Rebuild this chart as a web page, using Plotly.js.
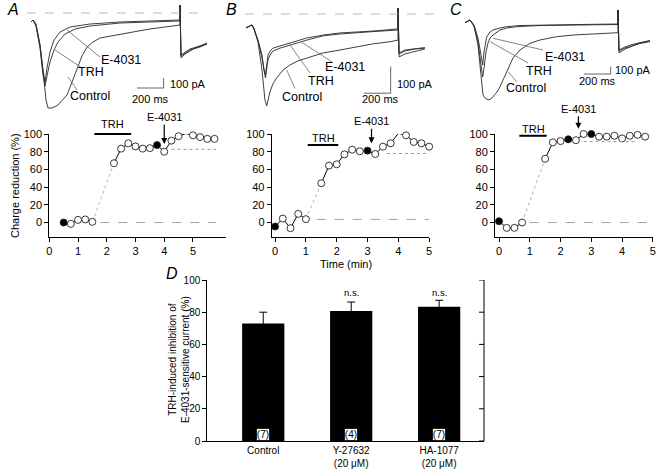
<!DOCTYPE html>
<html><head><meta charset="utf-8">
<script src="https://cdn.plot.ly/plotly-3.0.1.min.js"></script>
<style>html,body{margin:0;padding:0;background:#fff}#chart{width:663px;height:471px}</style>
</head><body><div id="chart"></div>
<script>
// ================= DATA =================
// Current traces (time in ms, current in pA)
const aCtrlT = [7.5,22.5,45,75,105,120,135,165,210,247.5,277.5,315,352.5,390,427.5,472.5,525,637.5,772.5,900,1012.5,1125,1125,1132.5,1162.5,1200,1237.5,1275,1327.5];
const aCtrlI = [-90,-70,-110,-320,-670,-870,-950,-950,-920,-870,-820,-690,-550,-430,-340,-290,-250,-220,-190,-160,-140,-120,80,-450,-410,-380,-350,-330,-310];
const aTrhT  = [7.5,22.5,45,75,97.5,112.5,127.5,150,180,210,262.5,337.5,450,675,900,1125,1125,1132.5,1200,1275,1327.5];
const aTrhI  = [-90,-70,-130,-350,-620,-730,-630,-490,-370,-290,-210,-160,-130,-100,-90,-80,80,-430,-370,-340,-310];
const aE4031T = [7.5,22.5,45,75,97.5,112.5,127.5,150,180,225,300,450,675,900,1125,1125,1132.5,1200,1275,1327.5];
const aE4031I = [-90,-70,-120,-320,-570,-690,-550,-390,-270,-190,-140,-110,-90,-80,-70,80,-420,-360,-330,-300];

const bCtrlT = [0,30,45,60,90,120,142,155,165,180,202,230,278,330,390,455,578,705,830,952,1080,1140,1140,1148,1192,1268,1342];
const bCtrlI = [-52,-45,-41,-56,-105,-210,-322,-345,-322,-292,-262,-240,-210,-191,-176,-165,-146,-135,-123,-112,-104,-98,22,-161,-150,-139,-131];
const bTrhT  = [0,30,45,60,90,120,135,146,158,165,180,202,255,330,455,578,705,952,1140,1140,1148,1192,1268,1342];
const bTrhI  = [-52,-45,-41,-56,-101,-165,-218,-240,-195,-172,-154,-139,-128,-116,-98,-82,-75,-66,-60,22,-150,-139,-131,-128];
const bE4031T = [0,30,45,60,90,120,135,146,158,165,180,202,255,330,455,578,705,952,1140,1140,1148,1192,1268,1342];
const bE4031I = [-52,-45,-41,-56,-98,-154,-210,-229,-180,-154,-139,-128,-120,-109,-90,-79,-71,-64,-56,22,-146,-135,-129,-126];

const cCtrlT = [0,37.5,67.5,97.5,120,135,150,172.5,195,210,240,262.5,285,312.5,337.5,360,412.5,487.5,562.5,687.5,810,937.5,1147.5,1147.5,1155,1200,1252.5,1312.5,1387.5];
const cCtrlI = [-119,-82,-164,-425,-836,-1110,-1151,-1178,-1164,-1133,-1069,-996,-904,-790,-685,-603,-493,-401,-356,-311,-288,-274,-256,55,-534,-480,-438,-397,-370];
const cTrhT  = [0,37.5,67.5,97.5,120,132.5,142.5,157.5,172.5,187.5,210,240,262.5,312.5,387.5,562.5,862.5,1147.5,1147.5,1155,1200,1252.5,1312.5,1387.5];
const cTrhI  = [-119,-82,-164,-384,-699,-863,-740,-521,-397,-329,-288,-247,-219,-192,-174,-158,-151,-144,55,-507,-466,-432,-404,-377];
const cE4031T = [0,37.5,67.5,97.5,120,132.5,142.5,162.5,187.5,210,262.5,312.5,412.5,562.5,862.5,1147.5,1147.5,1155,1200,1252.5,1312.5,1387.5];
const cE4031I = [-119,-82,-151,-329,-562,-699,-521,-315,-247,-219,-192,-174,-158,-151,-144,-137,55,-493,-452,-418,-390,-363];

// Charge reduction time courses (time in min, %)
const aTime   = [0.5,0.75,1.0,1.25,1.5,2.25,2.5,2.75,3.0,3.25,3.5,3.75,4.0,4.25,4.5,4.75,5.0,5.25,5.5,5.75];
const aCharge = [0,-1.5,3,3.5,0.8,67,83.5,89.5,86,83.5,84,87.5,80,92.5,97.5,100.5,98.5,96.5,94.5,94.5];
const aSampled = [1,0,0,0,0,0,0,0,0,0,0,1,0,0,0,1,0,0,0,0];
const aPreCount = 5;

const bTime   = [0,0.25,0.5,0.75,1.0,1.5,1.75,2.0,2.25,2.5,2.75,3.0,3.25,3.5,3.75,4.0,4.25,4.5,4.75,5.0];
const bCharge = [-4.5,4.5,-6.4,9.8,3.8,44.4,64.3,65.8,77,82.3,80.5,81.2,77.4,85.7,89.5,100.8,98.5,91,89.5,85.7];
const bSampled = [1,0,0,0,0,0,0,0,0,0,0,1,0,0,0,1,0,0,0,0];
const bPreCount = 5;

const cTime   = [0,0.25,0.5,0.75,1.5,1.75,2.0,2.25,2.5,2.75,3.0,3.25,3.5,3.75,4.0,4.25,4.5,4.75];
const cCharge = [1.5,-6,-6,0,72,90.6,92,94,93,100,100,97,97,98,95,98,99,97];
const cSampled = [1,0,0,0,0,0,0,1,0,0,1,0,0,0,0,0,0,0];
const cPreCount = 4;

// Application periods / reference levels (min, %)
const trhPeriod = {A:[1.57,2.85], B:[1.06,2.05], C:[0.66,1.55]};
const trhLevel  = {A:100, B:87.6, C:98};
const e4031Time = {A:4.0, B:3.13, C:2.58};
const e4031Head = {A:88.7, B:89.5, C:106};
const baseLevel = {A:0, B:3.5, C:0};
const baseSpan  = {A:[1.77,5.8], B:[1.35,5.0], C:[1.0,5.0]};
const postLevel = {A:82.7, B:78, C:91.4};
const postSpan  = {A:[4.25,5.8], B:[3.63,4.97], C:[2.75,4.5]};

// Panel D
const dCategories = ['Control','Y-27632<br>(20 \u03bcM)','HA-1077<br>(20 \u03bcM)'];
const dMean = [73, 80.7, 83.4];
const dSem  = [7, 5.6, 4];
const dN    = [7, 4, 7];
const dSig  = ['', 'n.s.', 'n.s.'];

const yTicks = [0,20,40,60,80,100];
const xTicks = [0,1,2,3,4,5];

// ================= LAYOUT HELPERS =================
const W = 663, H = 471;
const px = v => v / W;
const py = v => 1 - v / H;
const FONT = 'Liberation Sans, Arial, Helvetica, sans-serif';
const traceColor = '#2a2a2a';

const data = [];
const shapes = [];
const annotations = [];

function addCurrentPanel(sets, xa, ya) {
  sets.forEach(s => data.push({type:'scatter', mode:'lines', x:s[0], y:s[1], xaxis:xa, yaxis:ya,
    line:{color:traceColor, width:0.9}, hoverinfo:'skip'}));
}
addCurrentPanel([[aCtrlT,aCtrlI],[aTrhT,aTrhI],[aE4031T,aE4031I]], 'x', 'y');
addCurrentPanel([[bCtrlT,bCtrlI],[bTrhT,bTrhI],[bE4031T,bE4031I]], 'x2', 'y2');
addCurrentPanel([[cCtrlT,cCtrlI],[cTrhT,cTrhI],[cE4031T,cE4031I]], 'x3', 'y3');

function addChargePanel(t, v, sampled, nPre, xa, ya) {
  data.push({type:'scatter', mode:'lines', x:[t[nPre-1], t[nPre]], y:[v[nPre-1], v[nPre]], xaxis:xa, yaxis:ya,
    line:{color:'#b5b5b5', width:1, dash:'dot'}, hoverinfo:'skip'});
  data.push({type:'scatter', mode:'lines', x:t.slice(0,nPre), y:v.slice(0,nPre), xaxis:xa, yaxis:ya,
    line:{color:'#000', width:1}, hoverinfo:'skip'});
  data.push({type:'scatter', mode:'lines', x:t.slice(nPre), y:v.slice(nPre), xaxis:xa, yaxis:ya,
    line:{color:'#000', width:1}, hoverinfo:'skip'});
  data.push({type:'scatter', mode:'markers', x:t, y:v, xaxis:xa, yaxis:ya, cliponaxis:false,
    marker:{size:7, color:sampled.map(f => f ? '#000' : '#fff'), line:{color:'#222', width:0.9}}, hoverinfo:'skip'});
}
addChargePanel(aTime, aCharge, aSampled, aPreCount, 'x4', 'y4');
addChargePanel(bTime, bCharge, bSampled, bPreCount, 'x5', 'y5');
addChargePanel(cTime, cCharge, cSampled, cPreCount, 'x6', 'y6');

// Panel D bars
data.push({type:'bar', x:dCategories, y:dMean, xaxis:'x7', yaxis:'y7', width:0.48,
  marker:{color:'#000', line:{width:0}},
  error_y:{type:'data', array:dSem, visible:true, color:'#000', thickness:1, width:4}, hoverinfo:'skip'});

// ---- helpers ----
function line(xa, ya, x0, y0, x1, y1, color, width, dash) {
  shapes.push({type:'line', xref:xa, yref:ya, x0, y0, x1, y1, line:{color, width, dash:dash||'solid'}});
}
function text(xa, ya, x, y, t, size, anchor, angle) {
  annotations.push({xref:xa, yref:ya, x, y, text:t, showarrow:false, xanchor:anchor||'center', yanchor:'middle',
    textangle:angle||0, font:{size, family:FONT, color:'#000'}});
}
// Panel A traces decorations
line('x','y',-22.5,0,1327.5,0,'#b0b0b0',0.9,'dash');
line('x','y',802.5,-750,1002.5,-750,'#555',0.9);
line('x','y',1002.5,-750,1002.5,-650,'#555',0.9);
text('x','y',1035,-705,'100 pA',11,'left');
text('x','y',900,-855,'200 ms',11);
line('x','y',277.5,-170,525,-440,'#666',0.8);
line('x','y',187.5,-370,390,-550,'#666',0.8);
line('x','y',285,-640,352.5,-770,'#666',0.8);
text('x','y',682.5,-470,'E-4031',12.5);
text('x','y',457.5,-590,'TRH',12.5);
text('x','y',450,-830,'Control',12.5);
// Panel B
line('x2','y2',-7.5,0,1440,0,'#b0b0b0',0.9,'dash');
line('x2','y2',885,-297,1085,-297,'#555',0.9);
line('x2','y2',1085,-297,1085,-197,'#555',0.9);
text('x2','y2',1117,-262,'100 pA',11,'left');
text('x2','y2',1005,-320,'200 ms',11);
line('x2','y2',418,-106,643,-179,'#666',0.8);
line('x2','y2',330,-116,480,-221,'#666',0.8);
line('x2','y2',305,-210,367,-279,'#666',0.8);
text('x2','y2',742.5,-199,'E-4031',12.5);
text('x2','y2',562,-251,'TRH',12.5);
text('x2','y2',420,-311,'Control',12.5);
// Panel C
line('x3','y3',892.5,-822,1092.5,-822,'#555',0.9);
line('x3','y3',1092.5,-822,1092.5,-722,'#555',0.9);
text('x3','y3',1110,-765,'100 pA',11,'left');
text('x3','y3',990,-914,'200 ms',11);
line('x3','y3',212,-333,585,-493,'#666',0.8);
line('x3','y3',187.5,-379,472.5,-671,'#666',0.8);
line('x3','y3',322.5,-790,387.5,-927,'#666',0.8);
text('x3','y3',750,-589,'E-4031',12.5);
text('x3','y3',555,-781,'TRH',12.5);
text('x3','y3',457.5,-1014,'Control',12.5);

// ---- charge panel decorations ----
const yLo = -16, yHi = 100;
const dom = v => (v - yLo) / (yHi - yLo);
function chargeDecor(key, xa, ya, trhTextY, arrowPx) {
  const p = trhPeriod[key];
  shapes.push({type:'line', xref:xa, yref:ya+' domain', x0:p[0], x1:p[1], y0:dom(trhLevel[key]), y1:dom(trhLevel[key]),
    line:{color:'#000', width:2}});
  text(xa, ya+' domain', (p[0]+p[1])/2, dom(trhTextY), 'TRH', 11);
  line(xa, ya, baseSpan[key][0], baseLevel[key], baseSpan[key][1], baseLevel[key], '#9a9a9a', 0.9, 'dash');
  line(xa, ya, postSpan[key][0], postLevel[key], postSpan[key][1], postLevel[key], '#9a9a9a', 1, 'dot');
  annotations.push({xref:xa, yref:ya+' domain', x:e4031Time[key], y:dom(e4031Head[key]), text:'E-4031',
    showarrow:true, ax:0, ay:arrowPx, arrowhead:2, arrowsize:1, arrowwidth:1.2, arrowcolor:'#000', standoff:0,
    font:{size:11, family:FONT, color:'#000'}});
}
chargeDecor('A','x4','y4',111,-27);
chargeDecor('B','x5','y5',95,-22);
chargeDecor('C','x6','y6',106,-20);

// axis titles & panel letters
text('paper','paper',px(15),py(186),'Charge reduction (%)',11,'center',-90);
text('paper','paper',px(346),py(264),'Time (min)',11);
text('paper','paper',px(179),py(360),'TRH-induced inhibition of<br>E-4031-sensitive current (%)',10,'center',-90);
[['A',12.5,10],['B',232,10],['C',456,10],['D',172,273]].forEach(l =>
  text('paper','paper',px(l[1]),py(l[2]),'<i>'+l[0]+'</i>',16));

// panel D: right-hand axis (inward ticks)
shapes.push({type:'line', xref:'x7 domain', yref:'y7', x0:1, x1:1, y0:0, y1:100, line:{color:'#000', width:1}});
yTicks.forEach(v => shapes.push({type:'line', xref:'x7 domain', yref:'y7', x0:1, x1:1-5/276.7, y0:v, y1:v,
  line:{color:'#000', width:1}}));
// panel D labels
dCategories.forEach((c,i) => {
  annotations.push({xref:'x7', yref:'y7', x:c, y:4.3, text:'('+dN[i]+')', showarrow:false, bgcolor:'#fff',
    xanchor:'center', yanchor:'middle',
    bordercolor:'#000', borderwidth:0.8, borderpad:0, font:{size:10, family:FONT, color:'#000'}});
  if (dSig[i]) text('x7','y7',c,92.4,dSig[i],9.5);
});

// ================= AXES =================
const hidden = {visible:false, showgrid:false, zeroline:false, fixedrange:true};
const chargeX = (dm, rng, anchor) => ({domain:dm, range:rng, anchor, tickvals:xTicks, ticks:'outside', ticklen:4,
  tickwidth:1, tickcolor:'#000', showline:true, linecolor:'#000', linewidth:1, showgrid:false, zeroline:false,
  tickfont:{size:11, family:FONT, color:'#000'}});
const chargeY = (anchor) => ({domain:[py(236.7), py(134)], range:[yLo, yHi], anchor, tickvals:yTicks, ticks:'outside',
  ticklen:4, tickwidth:1, tickcolor:'#000', showline:true, linecolor:'#000', linewidth:1, showgrid:false,
  zeroline:false, tickfont:{size:11, family:FONT, color:'#000'}});

const layout = {
  width:W, height:H, margin:{l:0, r:0, t:0, b:0}, paper_bgcolor:'#fff', plot_bgcolor:'rgba(0,0,0,0)',
  showlegend:false, font:{family:FONT, size:11, color:'#000'},
  xaxis: Object.assign({}, hidden, {domain:[px(25), px(215)], range:[-37.5, 1387.5], anchor:'y'}),
  yaxis: Object.assign({}, hidden, {domain:[py(115), py(0)], range:[-1020, 130], anchor:'x'}),
  xaxis2: Object.assign({}, hidden, {domain:[px(240), px(440)], range:[-45, 1455], anchor:'y2'}),
  yaxis2: Object.assign({}, hidden, {domain:[py(115), py(0)], range:[-378.75, 52.5], anchor:'x2'}),
  xaxis3: Object.assign({}, hidden, {domain:[px(455), px(655)], range:[-75, 1425], anchor:'y3'}),
  yaxis3: Object.assign({}, hidden, {domain:[py(115), py(0)], range:[-1383.7, 191.8], anchor:'x3'}),
  xaxis4: chargeX([px(49.3), px(226)], [0, 6.15], 'y4'),
  yaxis4: chargeY('x4'),
  xaxis5: chargeX([px(271.7), px(429.3)], [-0.11, 5.005], 'y5'),
  yaxis5: chargeY('x5'),
  xaxis6: chargeX([px(495), px(653)], [-0.13, 5.005], 'y6'),
  yaxis6: chargeY('x6'),
  xaxis7: {domain:[px(207.3), px(484)], range:[-0.636, 2.51], anchor:'y7', type:'category', ticks:'',
    showline:true, linecolor:'#000', linewidth:1, showgrid:false, zeroline:false,
    tickfont:{size:10, family:FONT, color:'#000'}},
  yaxis7: {domain:[py(441), py(280)], range:[0, 100], anchor:'x7', tickvals:yTicks, ticks:'outside', ticklen:4,
    tickwidth:1, tickcolor:'#000', showline:true, linecolor:'#000', linewidth:1, showgrid:false, zeroline:false,
    tickfont:{size:10, family:FONT, color:'#000'}},
  shapes, annotations
};

Plotly.newPlot('chart', data, layout, {staticPlot:true, displayModeBar:false});
</script>
</body></html>
